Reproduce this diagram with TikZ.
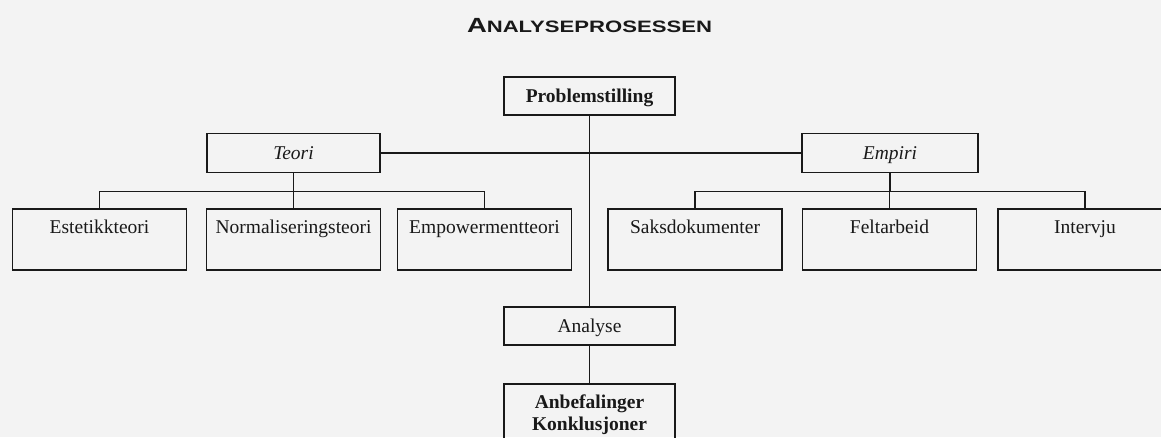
\documentclass[tikz,border=0pt]{standalone}
\usepackage{fontspec}
\setmainfont{Liberation Serif}
\newfontfamily\titlefont{Liberation Sans}
\definecolor{paper}{RGB}{243,243,243}
\definecolor{ink}{RGB}{25,25,25}
\newcommand{\diafont}{\fontsize{19.5}{21.7}\selectfont}

\begin{document}
\begin{tikzpicture}[x=1pt, y=-1pt, line join=miter,
        frame/.style={draw=ink, line width=1.8pt, inner sep=0pt, text=ink, font=\diafont},
        one/.style={frame, text height=13pt, text depth=0pt, minimum height=38pt},
        kid/.style={frame, minimum width=174pt, text height=13pt, text depth=25pt, inner ysep=11.5pt},
        wire/.style={draw=ink, line width=1.8pt}]
        \fill[paper] (0,0) rectangle (1161,437);
        \useasboundingbox (0,0) rectangle (1161,437);

        \node[text=ink, anchor=base] (title) at (589.5,32)
            {\resizebox{245pt}{\height}{\titlefont\bfseries{\fontsize{20.5}{20}\selectfont A}\fontsize{16.5}{20}\selectfont NALYSEPROSESSEN}};

        \node[one, font=\diafont\bfseries, minimum width=171pt] (prob) at (589.5,96) {Problemstilling};
        \node[one, font=\diafont\itshape, minimum width=173pt, minimum height=39pt] (teori) at (293.5,153) {Teori};
        \node[one, font=\diafont\itshape, minimum width=176pt, minimum height=39pt] (empiri) at (890,153) {Empiri};

        \node[kid] (est) at (99.5,239.5) {Estetikkteori};
        \node[kid] (norm) at (293.5,239.5) {Normaliseringsteori};
        \node[kid] (emp) at (484.5,239.5) {Empowermentteori};
        \node[kid] (saks) at (695,239.5) {Saksdokumenter};
        \node[kid] (felt) at (889.5,239.5) {Feltarbeid};
        \node[kid] (interv) at (1085,239.5) {Intervju};

        \node[one, minimum width=171pt] (ana) at (589.5,326) {Analyse};
        \node[frame, font=\diafont\bfseries, align=center, anchor=north, minimum width=171pt, minimum height=62pt] (anb) at (589.5,383) {Anbefalinger\\Konklusjoner};

        \draw[wire] (prob) -- (ana);
        \draw[wire] (teori) -- (empiri);
        \foreach \k in {est,norm,emp}
        \draw[wire] (teori.south) -- ++(0,18) -| (\k.north);
        \foreach \k in {saks,felt,interv}
        \draw[wire] (empiri.south) -- ++(0,18) -| (\k.north);
        \draw[wire] (ana) -- (anb);
\end{tikzpicture}
\end{document}
